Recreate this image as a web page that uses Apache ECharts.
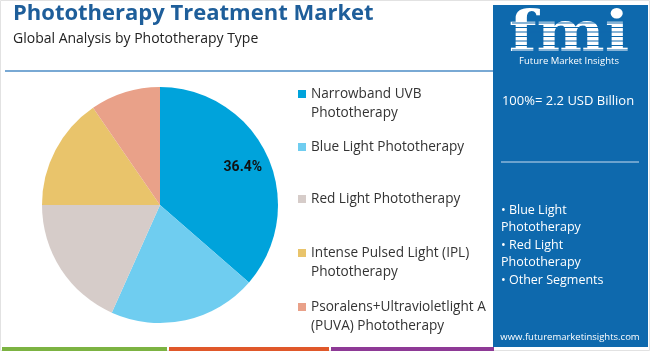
<!DOCTYPE html>
<html>
<head>
<meta charset="utf-8">
<script src="https://cdn.jsdelivr.net/npm/echarts@6/dist/echarts.min.js"></script>
<style>
html,body{margin:0;padding:0;background:#fff;}
#c{width:650px;height:351px;}
</style>
</head>
<body>
<div id="c"></div>
<script>
var categories = [
  'Narrowband UVB Phototherapy',
  'Blue Light Phototherapy',
  'Red Light Phototherapy',
  'Intense Pulsed Light (IPL) Phototherapy',
  'Psoralens+Ultravioletlight A (PUVA) Phototherapy'
];
var legendLines = [
  ['Narrowband UVB', 'Phototherapy'],
  ['Blue Light Phototherapy'],
  ['Red Light Phototherapy'],
  ['Intense Pulsed Light (IPL)', 'Phototherapy'],
  ['Psoralens+Ultravioletlight A', '(PUVA) Phototherapy']
];
var shares = [36.4, 20.3, 18.3, 15.4, 9.6];
var colors = ['#00A3DB', '#6FCDF0', '#D6CCC9', '#E9C46B', '#E9A189'];
var titleText = 'Phototherapy Treatment Market';
var subtitleText = 'Global Analysis by Phototherapy Type';
var totalText = '100%= 2.2 USD Billion';
var panelBullets = ['\u2022 Blue Light', 'Phototherapy', '\u2022 Red Light', 'Phototherapy', '\u2022 Other Segments'];
var siteText = 'www.futuremarketinsights.com';

var chart = echarts.init(document.getElementById('c'));
var FONT = '"Open Sans", sans-serif';

var pieData = categories.map(function (n, i) {
  return { name: n, value: shares[i], itemStyle: { color: colors[i] } };
});
var labelData = categories.map(function (n, i) {
  return { name: n, value: shares[i], label: { show: i === 0 } };
});

var graphics = [];
// frame
graphics.push({ type: 'rect', shape: { x: 0.5, y: 0.5, width: 649, height: 350 }, style: { fill: 'none', stroke: '#E2E2E2', lineWidth: 1 }, silent: true });
// title
graphics.push({ type: 'text', left: 13, top: 3, style: { text: titleText, fill: '#1E5E9A', font: 'bold 22px ' + FONT } });
graphics.push({ type: 'text', left: 13, top: 32, style: { text: subtitleText, fill: '#222222', font: '14px ' + FONT } });
graphics.push({ type: 'line', shape: { x1: 5, y1: 71, x2: 494, y2: 71 }, style: { stroke: '#4C8CC6', lineWidth: 1.5 } });
// legend
var legendY = [94, 147, 199, 253, 307];
legendLines.forEach(function (lines, i) {
  graphics.push({ type: 'rect', shape: { x: 298, y: legendY[i] - 4, width: 8, height: 8 }, style: { fill: colors[i] } });
  lines.forEach(function (t, j) {
    graphics.push({ type: 'text', x: 311, y: legendY[i] + j * 19, style: { text: t, fill: '#333333', font: '13.6px ' + FONT, verticalAlign: 'middle' } });
  });
});
// right panel
graphics.push({ type: 'rect', shape: { x: 493, y: 5, width: 155, height: 342 }, style: { fill: '#0E69AD' } });
graphics.push({ type: 'text', x: 569, y: 8, scaleX: 1.15, originX: 0, originY: 0, style: { text: 'fmi', fill: '#FFFFFF', font: 'bold 56px "DejaVu Serif", serif', align: 'center', verticalAlign: 'top' } });
for (var k = 0; k < 8; k++) {
  graphics.push({ type: 'line', shape: { x1: 512, y1: 23 + k * 4.5, x2: 628, y2: 23 + k * 4.5 }, style: { stroke: '#0E69AD', lineWidth: 1.2 } });
}
graphics.push({ type: 'text', x: 569, y: 61, style: { text: 'Future Market Insights', fill: '#FFFFFF', font: '9.5px ' + FONT, align: 'center', verticalAlign: 'middle' } });
graphics.push({ type: 'text', x: 568, y: 101, style: { text: totalText, fill: '#FFFFFF', font: '13px ' + FONT, align: 'center', verticalAlign: 'middle' } });
graphics.push({ type: 'line', shape: { x1: 501, y1: 162, x2: 639, y2: 162 }, style: { stroke: '#C9DDF0', lineWidth: 1 } });
panelBullets.forEach(function (t, i) {
  graphics.push({ type: 'text', x: 501, y: 210 + i * 17.5, style: { text: t, fill: '#FFFFFF', font: '12.5px ' + FONT, verticalAlign: 'middle' } });
});
graphics.push({ type: 'text', x: 570, y: 337, style: { text: siteText, fill: '#FFFFFF', font: '9.5px ' + FONT, align: 'center', verticalAlign: 'middle' } });
// bottom bar
graphics.push({ type: 'rect', shape: { x: 2, y: 347, width: 165, height: 4 }, style: { fill: '#7CB342' } });
graphics.push({ type: 'rect', shape: { x: 169, y: 347, width: 160, height: 4 }, style: { fill: '#E0582A' } });
graphics.push({ type: 'rect', shape: { x: 331, y: 347, width: 163, height: 4 }, style: { fill: '#8E3A96' } });

chart.setOption({
  animation: false,
  backgroundColor: '#FFFFFF',
  graphic: graphics,
  series: [
    {
      type: 'pie',
      center: [160, 205],
      radius: [0, 118],
      startAngle: 90,
      clockwise: true,
      silent: true,
      label: { show: false },
      labelLine: { show: false },
      itemStyle: { borderWidth: 0 },
      data: pieData
    },
    {
      type: 'pie',
      center: [160, 205],
      radius: [0, 176],
      startAngle: 90,
      clockwise: true,
      silent: true,
      itemStyle: { color: 'rgba(0,0,0,0)' },
      labelLine: { show: false },
      label: {
        position: 'inside',
        formatter: '{c}%',
        color: '#111111',
        fontWeight: 'bold',
        fontSize: 14,
        fontFamily: 'Roboto, sans-serif'
      },
      data: labelData
    }
  ]
});
</script>
</body>
</html>
